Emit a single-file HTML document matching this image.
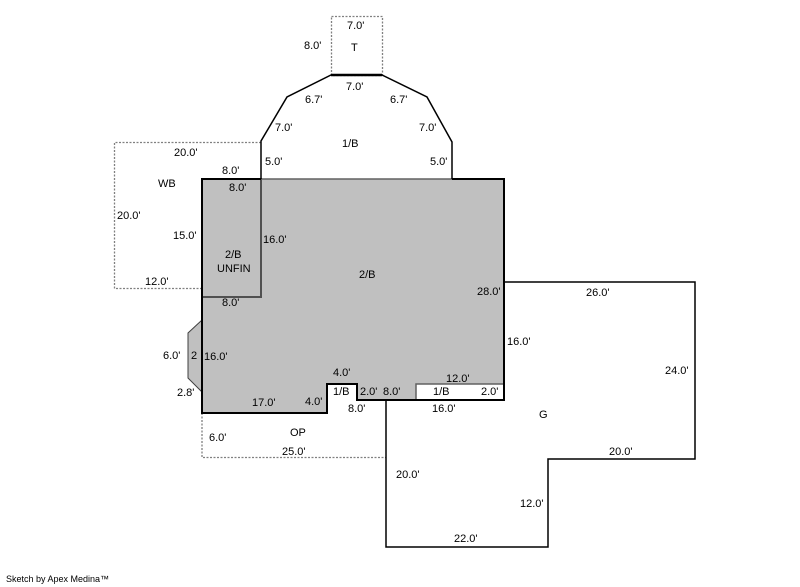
<!DOCTYPE html>
<html><head><style>
html,body{margin:0;padding:0;background:#fff;width:800px;height:587px;overflow:hidden}
svg text{font-family:"Liberation Sans",sans-serif;font-size:11px;fill:#000}
</style></head><body>
<svg width="800" height="587" viewBox="0 0 800 587" xmlns="http://www.w3.org/2000/svg">
<!-- dashed areas -->
<g fill="none" stroke="#808080" stroke-width="1.3" stroke-dasharray="2,1.5">
<rect x="331.5" y="16.5" width="51" height="59"/>
<polyline points="202,288.5 114.5,288.5 114.5,142.5 261,142.5"/>
<polyline points="202,413 202,457.5 386,457.5"/>
</g>
<!-- gray main -->
<polygon points="202,179 504,179 504,400 357,400 357,384 327,384 327,413 202,413" fill="#c0c0c0"/>
<polygon points="202,320 188,333 188,378 202,392" fill="#c0c0c0" stroke="#404040" stroke-width="1"/>
<rect x="416" y="384" width="88" height="16" fill="#fff" stroke="#606060" stroke-width="1.5"/>
<rect x="327" y="384" width="30" height="16" fill="#fff"/>
<!-- unfin -->
<rect x="202" y="179" width="59" height="118" fill="none" stroke="#505050" stroke-width="2"/>
<line x1="261" y1="179" x2="452" y2="179" stroke="#606060" stroke-width="1.5"/>
<!-- main outline -->
<polygon points="202,179 261,179 261,179 202,179" fill="none"/>
<g fill="none" stroke="#000" stroke-width="2">
<polyline points="261,179 202,179 202,413 327,413 327,384 357,384 357,400 504,400 504,179 452,179"/>
<line x1="357" y1="384" x2="357" y2="400"/>
<polyline points="261,179 261,141 287,97 331,75 382,75 427,97 452,142 452,179" stroke-width="1.5"/>
<line x1="331" y1="75" x2="382" y2="75" stroke-width="2.5"/>
<polyline points="504,282 695,282 695,459 548,459 548,547 386,547 386,400" stroke-width="1.5"/>
</g>
<text x="347" y="29">7.0'</text>
<text x="304" y="49">8.0'</text>
<text x="351" y="51">T</text>
<text x="346" y="90">7.0'</text>
<text x="305" y="103">6.7'</text>
<text x="390" y="103">6.7'</text>
<text x="275" y="131">7.0'</text>
<text x="419" y="131">7.0'</text>
<text x="342" y="147">1/B</text>
<text x="174" y="156">20.0'</text>
<text x="265" y="165">5.0'</text>
<text x="430" y="165">5.0'</text>
<text x="222" y="174">8.0'</text>
<text x="158" y="187">WB</text>
<text x="229" y="191">8.0'</text>
<text x="117" y="219">20.0'</text>
<text x="173" y="239">15.0'</text>
<text x="263" y="243">16.0'</text>
<text x="225" y="258">2/B</text>
<text x="217" y="272">UNFIN</text>
<text x="359" y="278">2/B</text>
<text x="145" y="285">12.0'</text>
<text x="477" y="295">28.0'</text>
<text x="586" y="296">26.0'</text>
<text x="222" y="306">8.0'</text>
<text x="507" y="345">16.0'</text>
<text x="163" y="359">6.0'</text>
<text x="191" y="359">2</text>
<text x="204" y="360">16.0'</text>
<text x="665" y="374">24.0'</text>
<text x="333" y="376">4.0'</text>
<text x="446" y="382">12.0'</text>
<text x="177" y="396">2.8'</text>
<text x="333" y="395">1/B</text>
<text x="360" y="395">2.0'</text>
<text x="383" y="395">8.0'</text>
<text x="433" y="395">1/B</text>
<text x="481" y="395">2.0'</text>
<text x="252" y="406">17.0'</text>
<text x="305" y="405">4.0'</text>
<text x="348" y="412">8.0'</text>
<text x="432" y="412">16.0'</text>
<text x="539" y="418">G</text>
<text x="290" y="436">OP</text>
<text x="209" y="441">6.0'</text>
<text x="282" y="455">25.0'</text>
<text x="609" y="455">20.0'</text>
<text x="396" y="478">20.0'</text>
<text x="520" y="507">12.0'</text>
<text x="454" y="542">22.0'</text>
<text x="6" y="582" style="font-size:9px">Sketch by Apex Medina™</text>
</svg>
</body></html>
